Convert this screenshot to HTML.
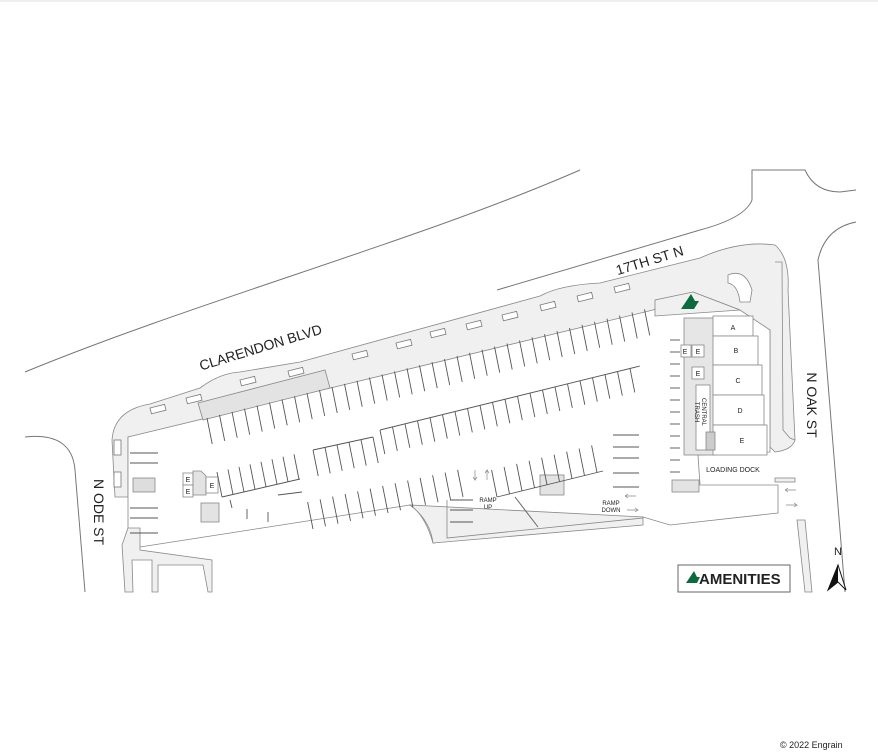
<!DOCTYPE html>
<html><head><meta charset="utf-8"><style>
html,body{margin:0;padding:0;background:#fff;width:878px;height:752px;overflow:hidden}
svg{display:block}
text{font-family:"Liberation Sans",sans-serif;fill:#222}
</style></head><body>
<svg id="s" width="878" height="752" viewBox="0 0 878 752" xmlns="http://www.w3.org/2000/svg">
<line x1="0" y1="1" x2="878" y2="1" stroke="#ddd"/>
<g fill="none" stroke="#777" stroke-width="1">
<path d="M25,372 C200,300 420,240 580,170"/>
<path d="M497,290 L700,230 Q745,218 752,200 L752,170 L805,170 Q815,192 840,192 L856,190"/>
<path d="M856,222 Q825,228 818,260 L845,592"/>
<path d="M25,437 Q72,432 75,470 L85,592"/>
</g>
<path d="M115,497 L112,440 Q114,410 150,404 L200,388 Q220,373 240,372 L300,362 L540,296 Q560,285 600,283 L700,258 Q740,240 775,245 Q790,258 788,290 L795,440 Q792,450 775,452 L770,447 L770,330 L128,437 L128,497 Z" fill="#f0f0f0" stroke="#888" stroke-width="0.8"/>
<path d="M128,437 L653,310 L693,292 L740,310 L770,330 L770,452 L698,455 L700,485 L778,485 L778,513 L670,525 L643,517 L433,543 Q425,515 410,505 L140,547 L128,545 Z" fill="#fff" stroke="#888" stroke-width="0.8"/>
<path d="M693,292 L740,310 L655,316 L655,300 Z" fill="#f0f0f0" stroke="#888" stroke-width="0.8"/>
<path d="M410,505 Q430,520 433,543 L643,525 L643,517 Z" fill="#f0f0f0" stroke="#888" stroke-width="0.8"/>
<path d="M447,500 L447,538 L643,518" fill="none" stroke="#888" stroke-width="0.8"/>
<line x1="515" y1="497" x2="538" y2="527" stroke="#666"/>
<polygon points="198,403 325,370 330,388 203,420" fill="#e3e3e3" stroke="#888" stroke-width="0.8"/>
<g stroke="#888" stroke-width="0.8">
<rect x="684" y="318" width="32" height="137" fill="#e6e6e6"/>
<rect x="713" y="316" width="40" height="20" fill="#fff"/>
<rect x="713" y="336" width="45" height="29" fill="#fff"/>
<rect x="713" y="365" width="49" height="30" fill="#fff"/>
<rect x="713" y="395" width="51" height="30" fill="#fff"/>
<rect x="713" y="425" width="54" height="30" fill="#fff"/>
<rect x="696" y="385" width="14" height="65" fill="#fff"/>
<rect x="681" y="345" width="10" height="12" fill="#fff"/>
<rect x="692" y="345" width="12" height="12" fill="#fff"/>
<rect x="692" y="367" width="12" height="12" fill="#fff"/>
<rect x="706" y="432" width="9" height="18" fill="#ccc"/>
<rect x="672" y="480" width="27" height="12" fill="#e3e3e3"/>
<rect x="540" y="475" width="24" height="20" fill="#e3e3e3"/>
<rect x="201" y="503" width="18" height="19" fill="#e3e3e3"/>
<rect x="183" y="473" width="10" height="12" fill="#fff"/>
<rect x="183" y="485" width="10" height="12" fill="#fff"/>
<path d="M193,471 L201,471 L206,476 L206,495 L193,495 Z" fill="#e3e3e3"/>
<rect x="206" y="477" width="12" height="16" fill="#fff"/>
<rect x="133" y="478" width="22" height="14" fill="#ddd"/>
<path d="M728,275 Q745,268 752,290 L750,302 L740,302 Q738,285 728,283 Z" fill="#fff"/>
<path d="M775,262 L782,262 L783,430 L790,438 L795,440" fill="none"/>
</g>
<g fill="#f0f0f0" stroke="#888" stroke-width="0.8">
<path d="M128,528 L122,545 L125,592 L133,592 L132,560 L152,560 L152,592 L158,592 L158,565 L203,565 L208,592 L212,592 L212,560 L140,550 L140,528 Z"/>
<path d="M797,520 L805,520 L812,592 L805,592 Z"/>
<rect x="775" y="478" width="20" height="4"/>
</g>
<g id="stalls" stroke="#555" stroke-width="0.9"></g>
<g id="boxes" fill="#fff" stroke="#777" stroke-width="0.8"></g>
<text transform="translate(262,352) rotate(-17)" font-size="14" text-anchor="middle">CLARENDON BLVD</text>
<text transform="translate(651,265) rotate(-17)" font-size="14" text-anchor="middle">17TH ST N</text>
<text transform="translate(807,405) rotate(90)" font-size="14" text-anchor="middle">N OAK ST</text>
<text transform="translate(94,512) rotate(90)" font-size="14" text-anchor="middle">N ODE ST</text>
<g font-size="7" text-anchor="middle">
<text x="733" y="330">A</text><text x="736" y="353">B</text><text x="738" y="383">C</text><text x="740" y="413">D</text><text x="742" y="443">E</text>
<text x="685" y="354">E</text><text x="698" y="354">E</text><text x="698" y="376">E</text>
<text x="188" y="482">E</text><text x="188" y="494">E</text><text x="212" y="488">E</text>
<text x="733" y="472">LOADING DOCK</text>
<text x="488" y="502" font-size="6">RAMP</text><text x="488" y="509" font-size="6">UP</text>
<text x="611" y="505" font-size="6">RAMP</text><text x="611" y="512" font-size="6">DOWN</text>
<text transform="translate(702,412) rotate(90)" font-size="6">CENTRAL</text>
<text transform="translate(695,412) rotate(90)" font-size="6">TRASH</text>
</g>
<g fill="none" stroke="#888" stroke-width="0.7">
<path d="M625,496 L636,496 M625,496 L628,494 M625,496 L628,498"/>
<path d="M627,510 L638,510 L635,508 M638,510 L635,512"/>
<path d="M785,490 L796,490 M785,490 L788,488 M785,490 L788,492"/>
<path d="M786,505 L797,505 L794,503 M797,505 L794,507"/>
<path d="M475,470 L475,480 L473,477 M475,480 L477,477"/>
<path d="M487,480 L487,470 L485,473 M487,470 L489,473"/>
</g>
<polygon points="681,309 691,294 695,301 699,301 694,309" fill="#0c6b3c"/>
<rect x="678" y="565" width="112" height="27" fill="#fff" stroke="#666"/>
<polygon points="686,583 694,571 697,577 700,577 697,583" fill="#0c6b3c"/>
<text x="699" y="584" font-size="15" font-weight="bold" fill="#111">AMENITIES</text>
<text x="834" y="555" font-size="11" fill="#111">N</text>
<polygon points="838,565 828,590 838,582 846,590" fill="#fff" stroke="#111"/>
<polygon points="838,565 838,582 828,590" fill="#111"/>
<text x="780" y="748" font-size="9" fill="#333">© 2022 Engrain</text>
</svg>
<script>
var ns="http://www.w3.org/2000/svg",g=document.getElementById('stalls'),b=document.getElementById('boxes');
function L(x1,y1,x2,y2){var l=document.createElementNS(ns,'line');l.setAttribute('x1',x1);l.setAttribute('y1',y1);l.setAttribute('x2',x2);l.setAttribute('y2',y2);g.appendChild(l);}
function row(x0,y0,x1,y1,len,sp,base){var m=(y1-y0)/(x1-x0);if(base)L(x0,y0,x1,y1);for(var x=x0;x<=x1+0.1;x+=sp){var y=y0+m*(x-x0);L(x,y,x+Math.abs(len)*0.2*(len>0?1:-1),y+len);}}
row(207,418,650,308,26,12.5,false);
row(380,430,640,366,24,12.5,true);
row(313,450,373,437,26,12,true);
row(222,497,300,479,-25,11,true);
row(313,529,467,496,-27,12.5,false);
row(497,497,603,471,-27,12.5,true);
[[268,522],[247,519]].forEach(function(p){L(p[0],p[1],p[0],p[1]-10);});
L(230,500,232,508);L(278,495,302,492);
[453,463,508,518,533].forEach(function(y){L(130,y,158,y);});
[500,510,522].forEach(function(y){L(450,y,473,y);});
[435,447,458,473,487].forEach(function(y){L(613,y,639,y);});
for(var y=340;y<480;y+=12){L(670,y,680,y);}
var pts=[[150,408],[186,398],[240,380],[288,371],[352,354],[396,343],[430,332],[466,324],[502,315],[540,305],[577,296],[614,287]];
pts.forEach(function(p){var r=document.createElementNS(ns,'rect');r.setAttribute('x',p[0]);r.setAttribute('y',p[1]);r.setAttribute('width',15);r.setAttribute('height',6);r.setAttribute('transform','rotate(-14 '+p[0]+' '+p[1]+')');b.appendChild(r);});
[[114,440],[114,472]].forEach(function(p){var r=document.createElementNS(ns,'rect');r.setAttribute('x',p[0]);r.setAttribute('y',p[1]);r.setAttribute('width',7);r.setAttribute('height',15);b.appendChild(r);});
</script>
</body></html>
